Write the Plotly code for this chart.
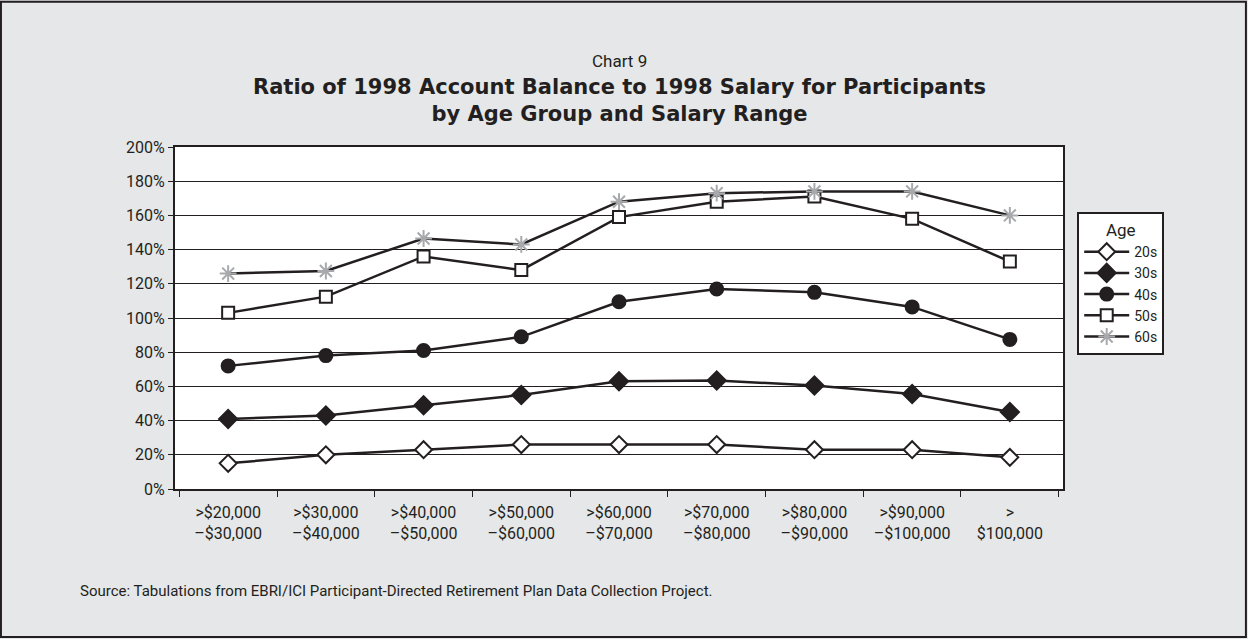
import plotly.graph_objects as go

# salary ranges on the x axis
salary_ranges = ['>$20,000<br>–$30,000', '>$30,000<br>–$40,000', '>$40,000<br>–$50,000',
                 '>$50,000<br>–$60,000', '>$60,000<br>–$70,000', '>$70,000<br>–$80,000',
                 '>$80,000<br>–$90,000', '>$90,000<br>–$100,000', '><br>$100,000']

#ratio of account balance to salary, percent
age_20s = [15, 20, 23, 26, 26, 26, 23, 23, 18.5]
age_30s = [41, 43, 49, 55, 63, 63.5, 60.5, 55.5, 45]
age_40s = [72, 78, 81, 89, 109.5, 117, 115, 106.5, 87.5]
age_50s = [103, 112.5, 136, 128, 159, 168, 171, 158, 133]
age_60s = [126, 127.5, 146.5, 143, 168, 173, 174, 174, 160]

font_fam = 'Roboto, Liberation Sans, sans-serif'
ink = '#231f20'

fig = go.Figure()

def add_line(name, vals, symbol, fill, edge, size):
    fig.add_trace(go.Scatter(x=salary_ranges, y=vals, name=name, mode='lines+markers',
                             line=dict(color=ink, width=2.5),
                             marker=dict(symbol=symbol, size=size, color=fill,
                                         line=dict(color=edge, width=2))))

add_line('20s', age_20s, 'diamond', 'white', ink, 13)
add_line('30s', age_30s, 'diamond', ink, ink, 14)
add_line('40s', age_40s, 'circle', ink, ink, 13)
add_line('50s', age_50s, 'square', 'white', ink, 12)
add_line('60s', age_60s, 'asterisk-open', '#a7a9ac', '#a7a9ac', 14)

fig.update_layout(
    width=1248, height=639,
    paper_bgcolor='#e6e7e8', plot_bgcolor='white',
    margin=dict(l=175, r=185, t=147, b=150),
    font=dict(family=font_fam, size=16, color=ink),
    showlegend=True,
    legend=dict(x=1.016, y=0.81, xanchor='left', yanchor='top',
                bgcolor='white', bordercolor=ink, borderwidth=2,
                title=dict(text='Age', side='top center', font=dict(size=17)),
                font=dict(size=14), itemwidth=45, tracegroupgap=0),
)

fig.update_xaxes(type='category', showline=True, linecolor=ink, linewidth=2, mirror=True,
                 ticks='outside', tickson='boundaries', ticklen=6, tickcolor=ink,
                 showgrid=False, tickfont=dict(size=16), ticklabelstandoff=8)
fig.update_yaxes(range=[0, 200], dtick=20, ticksuffix='%', showline=True, linecolor=ink,
                 linewidth=2, mirror=True, ticks='outside', ticklen=5, tickcolor=ink,
                 showgrid=True, gridcolor=ink, gridwidth=1, zeroline=False,
                 tickfont=dict(size=16))

#titles
fig.add_annotation(text='Chart 9', xref='paper', yref='paper', x=0.5, y=1.216, yanchor='bottom',
                   showarrow=False, font=dict(size=17))
fig.add_annotation(text='<b>Ratio of 1998 Account Balance to 1998 Salary for Participants<br>by Age Group and Salary Range</b>',
                   xref='paper', yref='paper', x=0.5, y=1.137, yanchor='middle', showarrow=False,
                   font=dict(size=21, family='DejaVu Sans, sans-serif'))
fig.add_annotation(text='Source: Tabulations from EBRI/ICI Participant-Directed Retirement Plan Data Collection Project.',
                   xref='paper', yref='paper', x=-0.109, y=-0.33, xanchor='left', showarrow=False,
                   font=dict(size=15))

#outer frame round the whole picture
fig.add_shape(type='rect', xref='paper', yref='paper', x0=-0.196, x1=1.206, y0=-0.4325, y1=1.4245,
              line=dict(color=ink, width=2))

fig.write_html("out.html", config={'displayModeBar': False},
               post_script="document.body.style.margin='0';")
